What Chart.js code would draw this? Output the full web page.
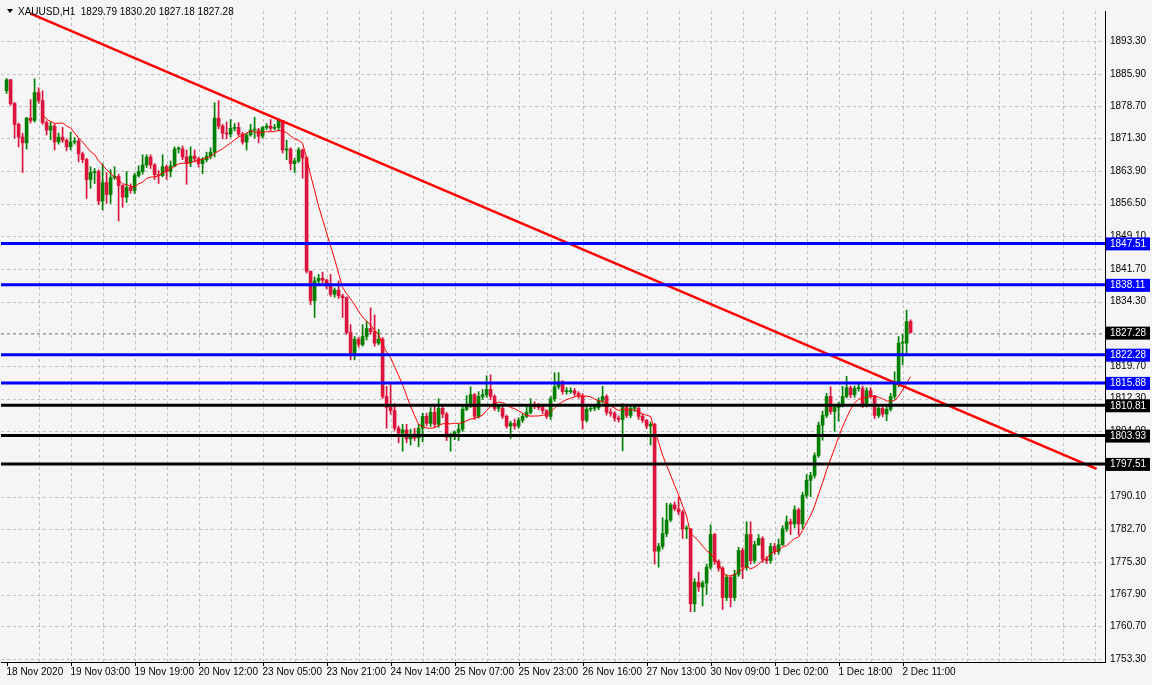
<!DOCTYPE html>
<html lang="en">
<head>
    <meta charset="UTF-8">
    <title>XAUUSD H1</title>
    <script src="https://cdn.jsdelivr.net/npm/chart.js"></script>
    <style>
        body { margin: 0; background: #ffffff; }
        canvas { display: block; }
    </style>
</head>
<body>
<canvas id="xau" width="1152" height="685"></canvas>
<script>
    const title = "XAUUSD,H1  1829.79 1830.20 1827.18 1827.28";
    const firstOpen = 1882.1;
    const closes = [
        1884.6,1879.2,1874.5,1871.6,1870.3,1875.9,1875.4,1881.7,1879.9,1874.9,1873.2,1874.1,1870.5,1871.6,1870.9,1869.4,1870.5,1870.7,1867.8,1866.5,
        1862.0,1863.6,1863.8,1857.1,1861.3,1858.6,1862.4,1862.7,1860.6,1858.0,1860.2,1859.5,1862.9,1863.8,1865.3,1867.1,1865.3,1863.1,1862.9,1864.9,
        1863.8,1865.1,1868.9,1868.9,1867.1,1865.8,1867.3,1866.7,1865.6,1866.5,1867.3,1868.2,1875.9,1874.1,1872.5,1872.3,1873.6,1873.8,1872.3,1870.5,
        1872.1,1873.2,1873.2,1871.8,1873.8,1874.1,1873.6,1873.8,1875.4,1868.7,1868.9,1865.6,1866.2,1868.7,1866.9,1841.2,1834.5,1839.0,1839.6,1839.2,
        1837.8,1836.0,1836.9,1835.6,1835.2,1827.3,1822.6,1825.8,1824.6,1826.4,1828.2,1827.5,1824.9,1825.8,1812.8,1810.3,1809.6,1805.6,1804.5,1805.2,
        1803.2,1804.3,1803.4,1805.6,1808.3,1806.7,1809.2,1806.5,1810.1,1808.8,1803.6,1803.8,1804.7,1805.4,1809.9,1810.8,1813.2,1808.3,1812.8,1813.2,
        1814.4,1812.8,1810.1,1810.1,1808.3,1806.1,1806.7,1806.1,1807.4,1808.3,1809.2,1811.0,1810.5,1810.3,1809.6,1808.3,1812.3,1815.0,1816.1,1813.9,
        1813.9,1814.1,1813.5,1813.0,1807.4,1809.9,1810.1,1810.3,1811.9,1812.8,1809.2,1809.0,1807.9,1807.6,1810.3,1808.5,1810.1,1810.1,1808.3,1807.4,
        1806.1,1806.5,1777.7,1778.8,1781.7,1784.8,1788.2,1787.3,1786.6,1782.8,1782.8,1765.8,1770.7,1769.6,1770.5,1774.1,1781.5,1775.4,1773.9,1767.2,
        1771.8,1767.2,1772.5,1777.9,1774.1,1781.5,1775.6,1779.2,1780.6,1775.9,1775.6,1778.8,1777.7,1779.2,1782.8,1784.4,1783.9,1787.1,1783.9,1790.4,
        1793.8,1794.9,1799.4,1806.3,1808.5,1812.8,1809.4,1810.3,1810.8,1812.8,1814.8,1813.2,1814.6,1814.6,1811.0,1814.1,1813.0,1808.5,1810.1,1808.8,
        1809.9,1812.8,1815.7,1824.9,1824.9,1829.8,1827.28
    ];
    const highs = [
        1884.9,1884.7,1879.5,1874.8,1872.5,1876.1,1880.1,1884.8,1882.8,1882.1,1875.3,1875.0,1874.6,1872.5,1873.8,1871.2,1872.7,1871.5,1871.3,1868.2,
        1866.8,1864.9,1864.5,1864.2,1865.6,1863.6,1864.2,1864.9,1863.2,1860.8,1863.8,1861.0,1863.4,1865.1,1867.6,1867.6,1867.6,1865.6,1864.0,1867.6,
        1865.3,1866.2,1869.4,1869.4,1869.6,1868.7,1869.4,1868.7,1867.0,1867.0,1868.2,1869.2,1879.4,1879.9,1874.5,1875.0,1875.6,1874.7,1874.9,1872.7,
        1872.5,1874.5,1876.1,1873.6,1874.0,1874.7,1875.6,1874.5,1875.8,1875.4,1870.9,1869.2,1866.8,1869.2,1868.9,1867.2,1841.2,1839.9,1840.5,1841.0,
        1839.4,1840.5,1837.4,1839.0,1836.0,1835.4,1829.1,1826.4,1826.2,1829.1,1829.8,1832.9,1831.3,1828.0,1826.2,1815.1,1815.9,1811.2,1806.1,1806.5,
        1806.5,1805.4,1805.6,1806.5,1809.0,1809.0,1810.3,1810.5,1812.3,1810.8,1809.2,1804.5,1805.0,1806.5,1810.5,1813.0,1815.0,1813.5,1813.9,1814.4,
        1817.5,1817.7,1813.2,1811.0,1810.5,1808.6,1807.2,1807.7,1808.0,1808.9,1810.5,1812.3,1811.6,1811.2,1810.6,1809.8,1812.8,1818.2,1818.2,1816.4,
        1814.8,1814.8,1814.6,1813.9,1813.5,1810.5,1810.6,1811.0,1812.5,1815.1,1813.2,1810.0,1809.4,1808.4,1811.2,1811.0,1811.0,1810.9,1810.8,1808.8,
        1807.6,1807.0,1806.7,1779.5,1785.3,1788.6,1788.6,1788.9,1790.0,1787.0,1783.5,1782.8,1771.5,1773.0,1771.0,1774.8,1783.7,1781.8,1775.8,1774.2,
        1772.4,1772.0,1773.4,1778.6,1778.4,1784.4,1784.4,1780.0,1781.5,1781.0,1776.5,1779.5,1779.5,1780.5,1783.5,1785.7,1785.0,1788.0,1787.5,1791.1,
        1795.1,1795.6,1800.0,1807.0,1809.5,1813.5,1815.0,1811.0,1811.5,1815.1,1817.4,1815.2,1815.2,1815.6,1815.2,1814.8,1814.8,1813.0,1810.8,1810.6,
        1810.5,1813.5,1818.4,1826.4,1826.8,1832.4,1830.2
    ];
    const lows = [
        1881.5,1878.8,1871.4,1869.4,1863.6,1868.9,1874.8,1875.0,1879.3,1874.5,1872.1,1871.0,1868.7,1870.0,1870.4,1868.5,1868.7,1870.0,1866.0,1865.8,
        1857.7,1860.0,1861.1,1856.3,1855.1,1856.6,1856.6,1862.0,1852.6,1855.7,1856.8,1858.9,1858.8,1862.5,1863.2,1864.7,1864.5,1862.0,1861.1,1862.6,
        1862.0,1862.6,1864.9,1868.0,1866.5,1860.9,1864.9,1866.0,1864.8,1863.3,1866.0,1866.7,1867.1,1873.5,1871.2,1871.2,1871.6,1873.0,1871.8,1870.0,
        1868.7,1871.8,1871.4,1870.3,1871.4,1873.3,1873.0,1873.2,1873.0,1868.0,1866.5,1864.2,1863.6,1865.8,1862.3,1840.8,1833.6,1830.7,1838.4,1838.6,
        1837.2,1835.5,1835.3,1835.0,1830.7,1826.9,1821.1,1821.1,1824.0,1824.2,1825.6,1826.9,1824.2,1824.5,1812.3,1805.6,1808.8,1805.0,1802.3,1800.4,
        1802.3,1801.8,1802.8,1801.4,1802.5,1806.1,1806.0,1805.8,1805.8,1808.0,1802.8,1800.4,1803.0,1802.8,1804.9,1809.6,1810.3,1807.6,1807.9,1812.1,
        1812.6,1812.1,1809.6,1809.4,1807.8,1805.6,1803.3,1805.4,1805.6,1806.9,1808.0,1808.8,1810.0,1809.8,1808.9,1807.8,1807.6,1811.7,1814.5,1813.3,
        1813.3,1813.5,1812.9,1812.4,1805.4,1807.0,1809.4,1809.6,1809.8,1811.3,1808.6,1808.3,1807.2,1807.0,1800.5,1808.0,1808.0,1809.4,1807.6,1806.9,
        1805.5,1801.8,1774.8,1774.1,1778.2,1781.0,1784.4,1786.9,1786.0,1780.6,1780.6,1764.0,1764.0,1768.6,1765.3,1767.9,1773.6,1774.7,1773.2,1764.5,
        1766.5,1765.1,1766.5,1772.0,1771.5,1773.4,1774.8,1775.0,1779.0,1775.2,1774.9,1775.0,1777.0,1777.0,1779.0,1782.2,1781.5,1783.0,1781.4,1782.8,
        1789.8,1790.1,1794.3,1799.0,1802.9,1808.0,1808.8,1804.9,1807.2,1810.4,1812.5,1812.5,1812.6,1814.0,1810.3,1810.4,1812.4,1807.8,1808.0,1808.2,
        1807.3,1809.5,1812.2,1815.0,1820.0,1822.6,1827.18
    ];
    const xLabels = ["18 Nov 2020","19 Nov 03:00","19 Nov 19:00","20 Nov 12:00","23 Nov 05:00","23 Nov 21:00","24 Nov 14:00",
        "25 Nov 07:00","25 Nov 23:00","26 Nov 16:00","27 Nov 13:00","30 Nov 09:00","1 Dec 02:00","1 Dec 18:00","2 Dec 11:00"];
    const yTicks = [1893.30,1885.90,1878.70,1871.30,1863.90,1856.50,1849.10,1841.70,1834.30,1827.00,1819.70,
        1812.30,1804.90,1797.50,1790.10,1782.70,1775.30,1767.90,1760.70,1753.30];
    const blueLevels = [1847.51, 1838.11, 1822.28, 1815.88];
    const blackLevels = [1810.81, 1803.93, 1797.51];
    const currentPrice = 1827.28;
    const trendX = [6, 272.5];
    const trendY = [1899.6, 1796.4];
    const maPeriod = 10;

    const opens = [firstOpen].concat(closes.slice(0, -1));
    const up = closes.map((c, i) => c >= opens[i]);
    const green = '#008000', red = '#dc143c';
    const colors = up.map(u => u ? green : red);

    const ma = closes.map((c, i) => {
        if (i < maPeriod - 1) return null;
        let s = 0;
        for (let k = i - maPeriod + 1; k <= i; k++) s += closes[k];
        return { x: i, y: s / maPeriod };
    }).filter(p => p);

    const font = '10px "Liberation Sans", Arial, sans-serif';

    const mtPlugin = {
        id: 'mt',
        beforeDraw(chart) {
            const c = chart.ctx;
            c.save();
            c.fillStyle = '#f5f5f5';
            c.fillRect(0, 0, chart.width, chart.height);
            c.restore();
        },
        beforeDatasetsDraw(chart) {
            const c = chart.ctx, a = chart.chartArea, xs = chart.scales.x, ys = chart.scales.y;
            c.save();
            c.strokeStyle = '#c0c0c0';
            c.lineWidth = 1;
            c.setLineDash([3, 3]);
            yTicks.forEach(v => {
                const y = Math.round(ys.getPixelForValue(v)) + 0.5;
                c.beginPath(); c.moveTo(a.left, y); c.lineTo(a.right, y); c.stroke();
            });
            for (let i = 8; i < 275; i += 8) {
                const x = Math.round(xs.getPixelForValue(i)) + 0.5;
                c.beginPath(); c.moveTo(x, a.top); c.lineTo(x, a.bottom); c.stroke();
            }
            c.strokeStyle = '#a0a0a0';
            const cy = Math.round(ys.getPixelForValue(currentPrice)) + 0.5;
            c.beginPath(); c.moveTo(a.left, cy); c.lineTo(a.right, cy); c.stroke();
            c.restore();
        },
        afterDatasetsDraw(chart) {
            const c = chart.ctx, a = chart.chartArea, xs = chart.scales.x, ys = chart.scales.y;
            c.save();
            c.lineWidth = 3;
            blueLevels.forEach(v => {
                const y = ys.getPixelForValue(v);
                c.strokeStyle = '#0000ff';
                c.beginPath(); c.moveTo(a.left, y); c.lineTo(a.right, y); c.stroke();
            });
            blackLevels.forEach(v => {
                const y = ys.getPixelForValue(v);
                c.strokeStyle = '#000000';
                c.beginPath(); c.moveTo(a.left, y); c.lineTo(a.right, y); c.stroke();
            });
            // price boxes on the axis
            c.font = font;
            c.textBaseline = 'middle';
            c.textAlign = 'left';
            const box = (v, col) => {
                const y = ys.getPixelForValue(v);
                c.fillStyle = col;
                c.fillRect(a.right + 1, y - 6, 44, 13);
                c.fillStyle = '#ffffff';
                c.fillText(v.toFixed(2), a.right + 5, y + 0.5);
            };
            blueLevels.forEach(v => box(v, '#0000ff'));
            blackLevels.forEach(v => box(v, '#000000'));
            box(currentPrice, '#000000');
            // x labels
            c.fillStyle = '#000000';
            c.strokeStyle = '#000000';
            c.lineWidth = 1;
            xLabels.forEach((t, k) => {
                const x = Math.round(xs.getPixelForValue(k * 16)) + 0.5;
                c.beginPath(); c.moveTo(x, a.bottom); c.lineTo(x, a.bottom + 4); c.stroke();
                c.fillText(t, x - 1, a.bottom + 10);
            });
            // title
            c.fillStyle = '#000000';
            c.beginPath(); c.moveTo(7, 9); c.lineTo(13, 9); c.lineTo(10, 13); c.closePath(); c.fill();
            c.fillText(title, 18, 12);
            c.restore();
        }
    };

    new Chart(document.getElementById('xau'), {
        type: 'bar',
        data: {
            datasets: [
                {
                    type: 'line', data: trendX.map((x, k) => ({ x: x, y: trendY[k] })),
                    borderColor: '#ff0000', borderWidth: 2.5, pointRadius: 0, order: 0
                },
                {
                    type: 'line', data: ma,
                    borderColor: '#ff0000', borderWidth: 1, pointRadius: 0, tension: 0, order: 1
                },
                {
                    data: closes.map((c, i) => ({ x: i, y: [opens[i], c] })),
                    backgroundColor: colors, barThickness: 3, minBarLength: 1,
                    grouped: false, borderWidth: 0, order: 2
                },
                {
                    data: closes.map((c, i) => ({ x: i, y: [lows[i], highs[i]] })),
                    backgroundColor: colors, barThickness: 1,
                    grouped: false, borderWidth: 0, order: 3
                }
            ]
        },
        options: {
            responsive: false,
            animation: false,
            layout: { padding: { top: -6, left: 1, right: 0, bottom: 0 } },
            plugins: { legend: { display: false }, tooltip: { enabled: false } },
            scales: {
                x: {
                    type: 'linear', min: -1.4, max: 274.6, offset: false,
                    grid: { display: false },
                    border: { color: '#000000' },
                    ticks: { display: false },
                    afterFit(s) { s.height = 23; }
                },
                y: {
                    position: 'right', min: 1752.6, max: 1900.2,
                    grid: { display: false, drawTicks: false, tickLength: 0 },
                    border: { color: '#000000' },
                    afterBuildTicks(s) { s.ticks = yTicks.map(v => ({ value: v })); },
                    ticks: {
                        autoSkip: false, color: '#000000', padding: 5,
                        font: { family: '"Liberation Sans", Arial, sans-serif', size: 10 },
                        callback: v => Number(v).toFixed(2)
                    },
                    afterFit(s) { s.width = 47; }
                }
            }
        },
        plugins: [mtPlugin]
    });
</script>
</body>
</html>
